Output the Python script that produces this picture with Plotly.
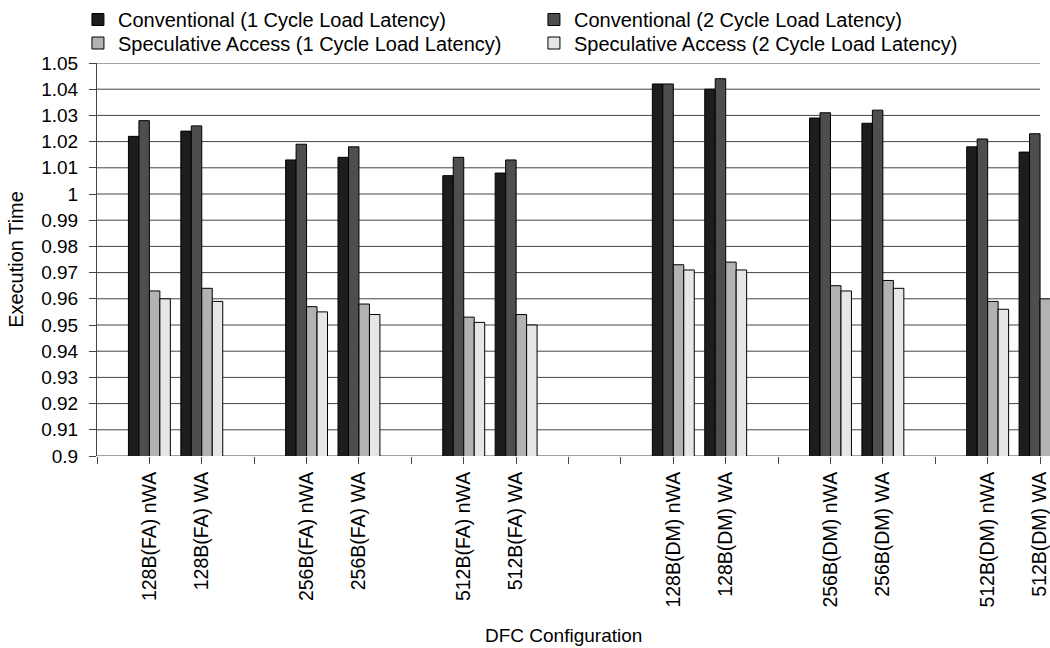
import plotly.graph_objects as go

categories = ["", "128B(FA) nWA", "128B(FA) WA", "", "256B(FA) nWA", "256B(FA) WA", "",
              "512B(FA) nWA", "512B(FA) WA", "", "", "128B(DM) nWA", "128B(DM) WA", "",
              "256B(DM) nWA", "256B(DM) WA", "", "512B(DM) nWA", "512B(DM) WA"]

series_names = ["Conventional (1 Cycle Load Latency)",
                "Conventional (2 Cycle Load Latency)",
                "Speculative Access (1 Cycle Load Latency)",
                "Speculative Access (2 Cycle Load Latency)"]

conv_1 = [1.022, 1.024, 1.013, 1.014, 1.007, 1.008, 1.042, 1.040, 1.029, 1.027, 1.018, 1.016]
conv_2 = [1.028, 1.026, 1.019, 1.018, 1.014, 1.013, 1.042, 1.044, 1.031, 1.032, 1.021, 1.023]
spec_1 = [0.963, 0.964, 0.957, 0.958, 0.953, 0.954, 0.973, 0.974, 0.965, 0.967, 0.959, 0.960]
spec_2 = [0.960, 0.959, 0.955, 0.954, 0.951, 0.950, 0.971, 0.971, 0.963, 0.964, 0.956, 0.957]

y_ticks = [0.90, 0.91, 0.92, 0.93, 0.94, 0.95, 0.96, 0.97, 0.98, 0.99, 1.00,
           1.01, 1.02, 1.03, 1.04, 1.05]
y_ticktext = ["0.9", "0.91", "0.92", "0.93", "0.94", "0.95", "0.96", "0.97", "0.98",
              "0.99", "1", "1.01", "1.02", "1.03", "1.04", "1.05"]

colors = ["#1d1d1d", "#4e4e4e", "#b2b2b2", "#e6e6e6"]
legend_ids = ["legend", "legend", "legend2", "legend2"]

FONT = "Liberation Sans, Arial, Helvetica, sans-serif"

x_pos = [i for i, c in enumerate(categories) if c]
last_idx = len(categories) - 1

fig = go.Figure()
for name, vals, col, lg in zip(series_names, [conv_1, conv_2, spec_1, spec_2], colors, legend_ids):
    fig.add_trace(go.Bar(
        x=x_pos, y=vals, name=name, legend=lg,
        marker=dict(color=col, line=dict(color="#000000", width=1)),
    ))

# horizontal grid lines (end at the last category like the original)
for v in y_ticks:
    fig.add_shape(type="line", xref="x", yref="y", x0=0, x1=last_idx, y0=v, y1=v,
                  line=dict(color="#444444", width=1), layer="below")

leg_common = dict(orientation="h", x=-0.02, xanchor="left", yanchor="middle",
                  entrywidth=411, entrywidthmode="pixels", traceorder="normal",
                  font=dict(size=20), bgcolor="rgba(0,0,0,0)", itemwidth=30)

fig.update_layout(
    width=1050, height=648,
    margin=dict(l=97, r=0, t=63, b=192),
    paper_bgcolor="white", plot_bgcolor="white",
    barmode="group", bargap=0.2, bargroupgap=0,
    font=dict(family=FONT, size=19, color="#000000"),
    legend=dict(y=1 + (63 - 19) / 393, **leg_common),
    legend2=dict(y=1 + (63 - 43) / 393, **leg_common),
    showlegend=True,
    annotations=[
        dict(text="DFC Configuration", xref="paper", yref="paper",
             x=(563.5 - 97) / 953, y=-(635 - 456) / 393, xanchor="center", yanchor="middle",
             showarrow=False, font=dict(size=19)),
    ],
)

fig.update_xaxes(
    range=[0, last_idx + 0.19],
    tickmode="array", tickvals=list(range(len(categories))), ticktext=categories,
    tickangle=-90, ticks="outside", ticklen=7, tickcolor="#444444",
    ticklabeloverflow="allow",
    showgrid=False, zeroline=False, showline=False,
    tickfont=dict(size=19.5),
)
fig.update_yaxes(
    range=[0.9, 1.05],
    tickmode="array", tickvals=y_ticks, ticktext=y_ticktext,
    ticks="outside", ticklen=7, tickcolor="#444444", ticklabelstandoff=7,
    showgrid=False, zeroline=False, showline=True, linecolor="#444444", linewidth=1,
    title=dict(text="Execution Time", standoff=12, font=dict(size=20)),
    tickfont=dict(size=19),
)

fig.write_html("out.html")
